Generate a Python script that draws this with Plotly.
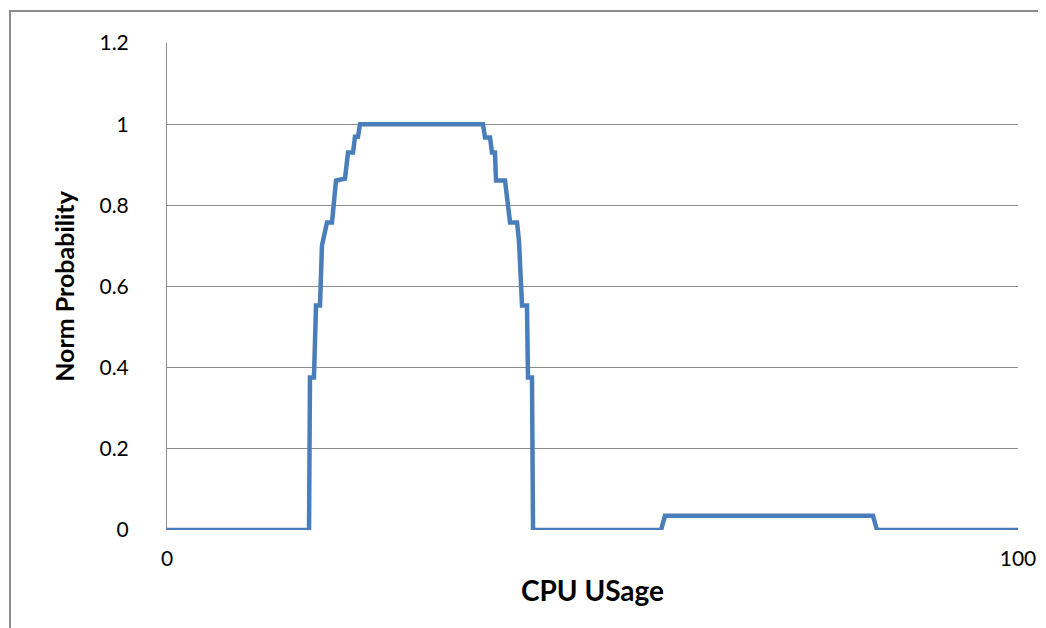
import plotly.graph_objects as go

# CPU usage (x) and normalised probability (y)
cpu_usage = [0, 16.69, 16.80, 17.27, 17.51, 17.98, 18.21, 18.57, 18.80, 19.39,
             19.86, 20.92, 21.27, 21.86, 22.09, 22.44, 22.68,
             37.13, 37.37, 37.96, 38.19, 38.54, 38.66, 39.72, 40.31, 41.13,
             41.36, 41.72, 42.30, 42.42, 42.89, 43.01,
             58.05, 58.52, 82.96, 83.43, 100]
norm_prob = [0, 0, 0.376, 0.376, 0.553, 0.553, 0.701, 0.738, 0.758, 0.758,
             0.861, 0.866, 0.930, 0.930, 0.969, 0.969, 1.0,
             1.0, 0.967, 0.967, 0.930, 0.930, 0.861, 0.861, 0.758, 0.758,
             0.713, 0.553, 0.553, 0.376, 0.376, 0,
             0, 0.035, 0.035, 0, 0]

x_tickvals = [0, 100]
x_ticktext = ["0", "100"]
y_tickvals = [0, 0.2, 0.4, 0.6, 0.8, 1.0, 1.2]
y_ticktext = ["0", "0.2", "0.4", "0.6", "0.8", "1", "1.2"]

fig = go.Figure()
fig.add_trace(go.Scatter(
    x=cpu_usage, y=norm_prob, mode="lines",
    line=dict(color="#4a7ebb", width=4.5),
    showlegend=False, hoverinfo="skip",
))

font_family = "Lato, 'Open Sans', sans-serif"

# page body has an 8px margin, so the figure is sized/margined to compensate
fig.update_layout(
    width=1038, height=620,
    margin=dict(l=159, r=28, t=35, b=98, autoexpand=False),
    paper_bgcolor="white", plot_bgcolor="white",
    font=dict(family=font_family, color="#000000"),
    xaxis=dict(
        range=[0, 100], tickvals=x_tickvals, ticktext=x_ticktext,
        showgrid=False, zeroline=False, showline=False,
        tickfont=dict(size=21, family=font_family),
        ticks="", ticklabelstandoff=14, automargin=False,
        title=dict(text="<b>CPU USage</b>", font=dict(size=28, family=font_family), standoff=12),
    ),
    yaxis=dict(
        range=[0, 1.2], tickvals=y_tickvals, ticktext=y_ticktext,
        showgrid=True, gridcolor="#8c8c8c", gridwidth=1,
        zeroline=False, showline=True, linecolor="#8c8c8c", linewidth=1,
        tickfont=dict(size=21, family=font_family),
        ticks="", ticklabelstandoff=33, automargin=False,
        title=dict(text="<b>Norm Probability</b>", font=dict(size=25, family=font_family), standoff=17),
    ),
    shapes=[dict(
        type="rect", xref="paper", yref="paper",
        x0=-0.1845, x1=1.04, y0=-0.22, y1=1.0657,
        line=dict(color="#8c8c8c", width=2), fillcolor="rgba(0,0,0,0)", layer="below",
    )],
)

fig.write_html("out.html")
